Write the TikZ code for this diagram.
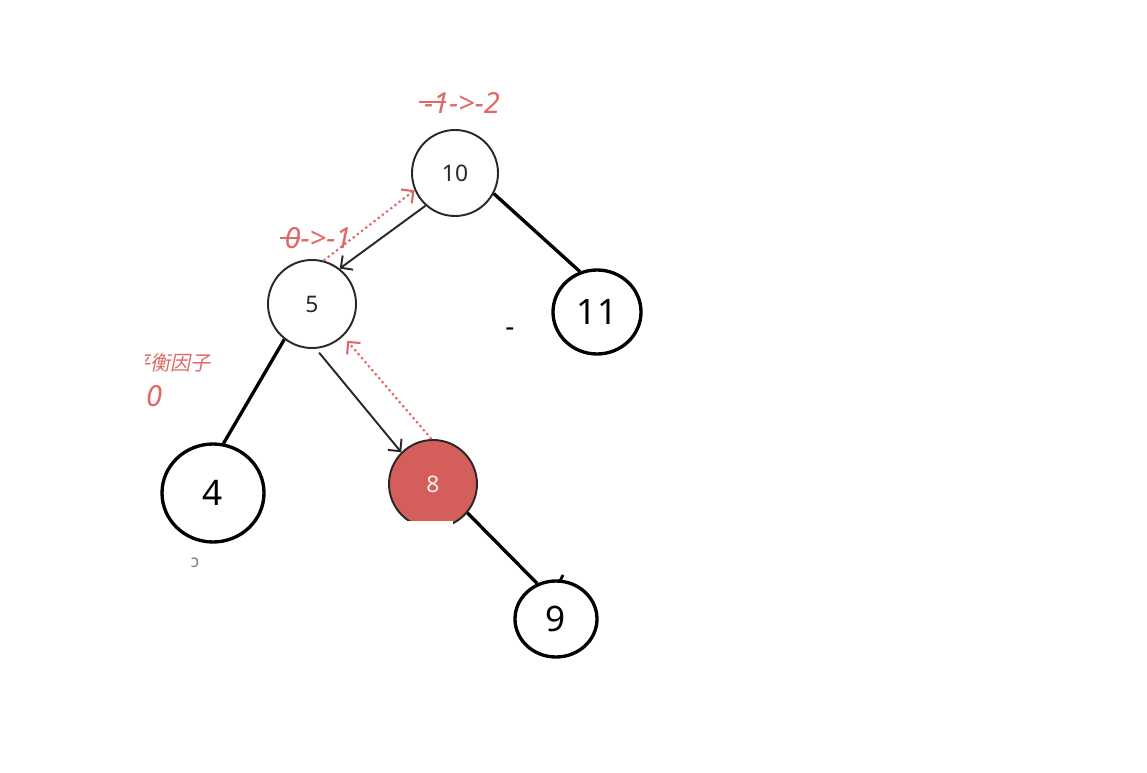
\documentclass[tikz,border=0pt]{standalone}
\usepackage{fontspec}
\setmainfont{Noto Sans}
\newfontfamily\cjk{Noto Sans CJK SC}
\usetikzlibrary{arrows.meta,shapes.geometric}
\definecolor{redl}{RGB}{224,104,102}
\definecolor{redf}{RGB}{212,94,90}
\definecolor{dkgray}{RGB}{40,40,40}
\tikzset{
  thinnode/.style={circle,draw=dkgray,line width=1.1pt,fill=white,inner sep=0pt,font=\fontsize{13}{13}\selectfont\color{dkgray}},
  thicknode/.style={ellipse,draw=black,line width=1.9pt,fill=white,inner sep=0pt,font=\fontsize{20}{20}\selectfont},
  thickedge/.style={line width=1.9pt,black},
  thinarrow/.style={line width=1.1pt,draw=dkgray,-{Straight Barb[length=5pt,width=10pt]}},
  redarrow/.style={line width=1.2pt,draw=redl,dash pattern=on 1.3pt off 1.7pt,-{Straight Barb[length=5pt,width=10pt]}},
  redlabel/.style={redl,font=\fontsize{16.5}{16.5}\selectfont\itshape,inner sep=0pt}
}
\begin{document}
\begin{tikzpicture}[x=0.02cm,y=-0.02cm]
\useasboundingbox[fill=white] (0,0) rectangle (1147,773);
% nodes
\node[thinnode,minimum size=86*0.02cm] (n10) at (455,173) {10};
\node[thinnode,minimum size=88*0.02cm] (n5) at (312,304) {5};
\node[thicknode,minimum width=88*0.02cm,minimum height=84*0.02cm] (n11) at (597,312) {11};
\node[thicknode,minimum width=102*0.02cm,minimum height=98*0.02cm] (n4) at (213,493) {4};
\node[circle,draw=dkgray,line width=1.1pt,fill=redf,inner sep=0pt,minimum size=88*0.02cm,font=\fontsize{13}{13}\selectfont\color{white!90!redf}] (n8) at (433,484) {8};
\node[thicknode,minimum width=82*0.02cm,minimum height=76*0.02cm] (n9) at (556,619) {9};
% cover of node 8 bottom
\fill[white] (385,521) rectangle (453,540);
% edges
\draw[thickedge] (n10.-28) -- (n11.113);
\draw[thickedge] (n5.232) -- (n4.78);
\draw[thickedge] (n8.-40) -- (n9.118);
\draw[line width=1.6pt] (560,581) -- (563,575);
\draw[thinarrow] (n10.228) -- (n5.52);
\draw[thinarrow,shorten <=5*0.02cm] (n5.-85) -- (n8.135);
\draw[redarrow] (n5.75) -- (n10.203);
\draw[redarrow,shorten >=6*0.02cm] (n8.92) -- (n5.-46);
% labels
\node[redlabel] (l10) at (462,103) {-1->-2};
\draw[redl,line width=1.1pt] (419,102) -- (446,102);
\node[redlabel] (l5) at (318,238) {0->-1};
\draw[redl,line width=1.1pt] (280,238) -- (300,238);
\begin{scope}
\clip (145,340) rectangle (260,420);
\node[redl,font=\fontsize{11.5}{11.5}\selectfont\cjk,inner sep=0pt,anchor=west] (cn) at (130,363) {\addfontfeature{FakeSlant=0.2}平衡因子};
\end{scope}
\node[redlabel] (z0) at (154,396) {0};
\node[font=\fontsize{16}{16}\selectfont,inner sep=0pt] (dash) at (510,332) {-};
\node[gray,font=\fontsize{10}{10}\selectfont,inner sep=0pt] (mk) at (195,563) {ɔ};
\end{tikzpicture}
\end{document}
